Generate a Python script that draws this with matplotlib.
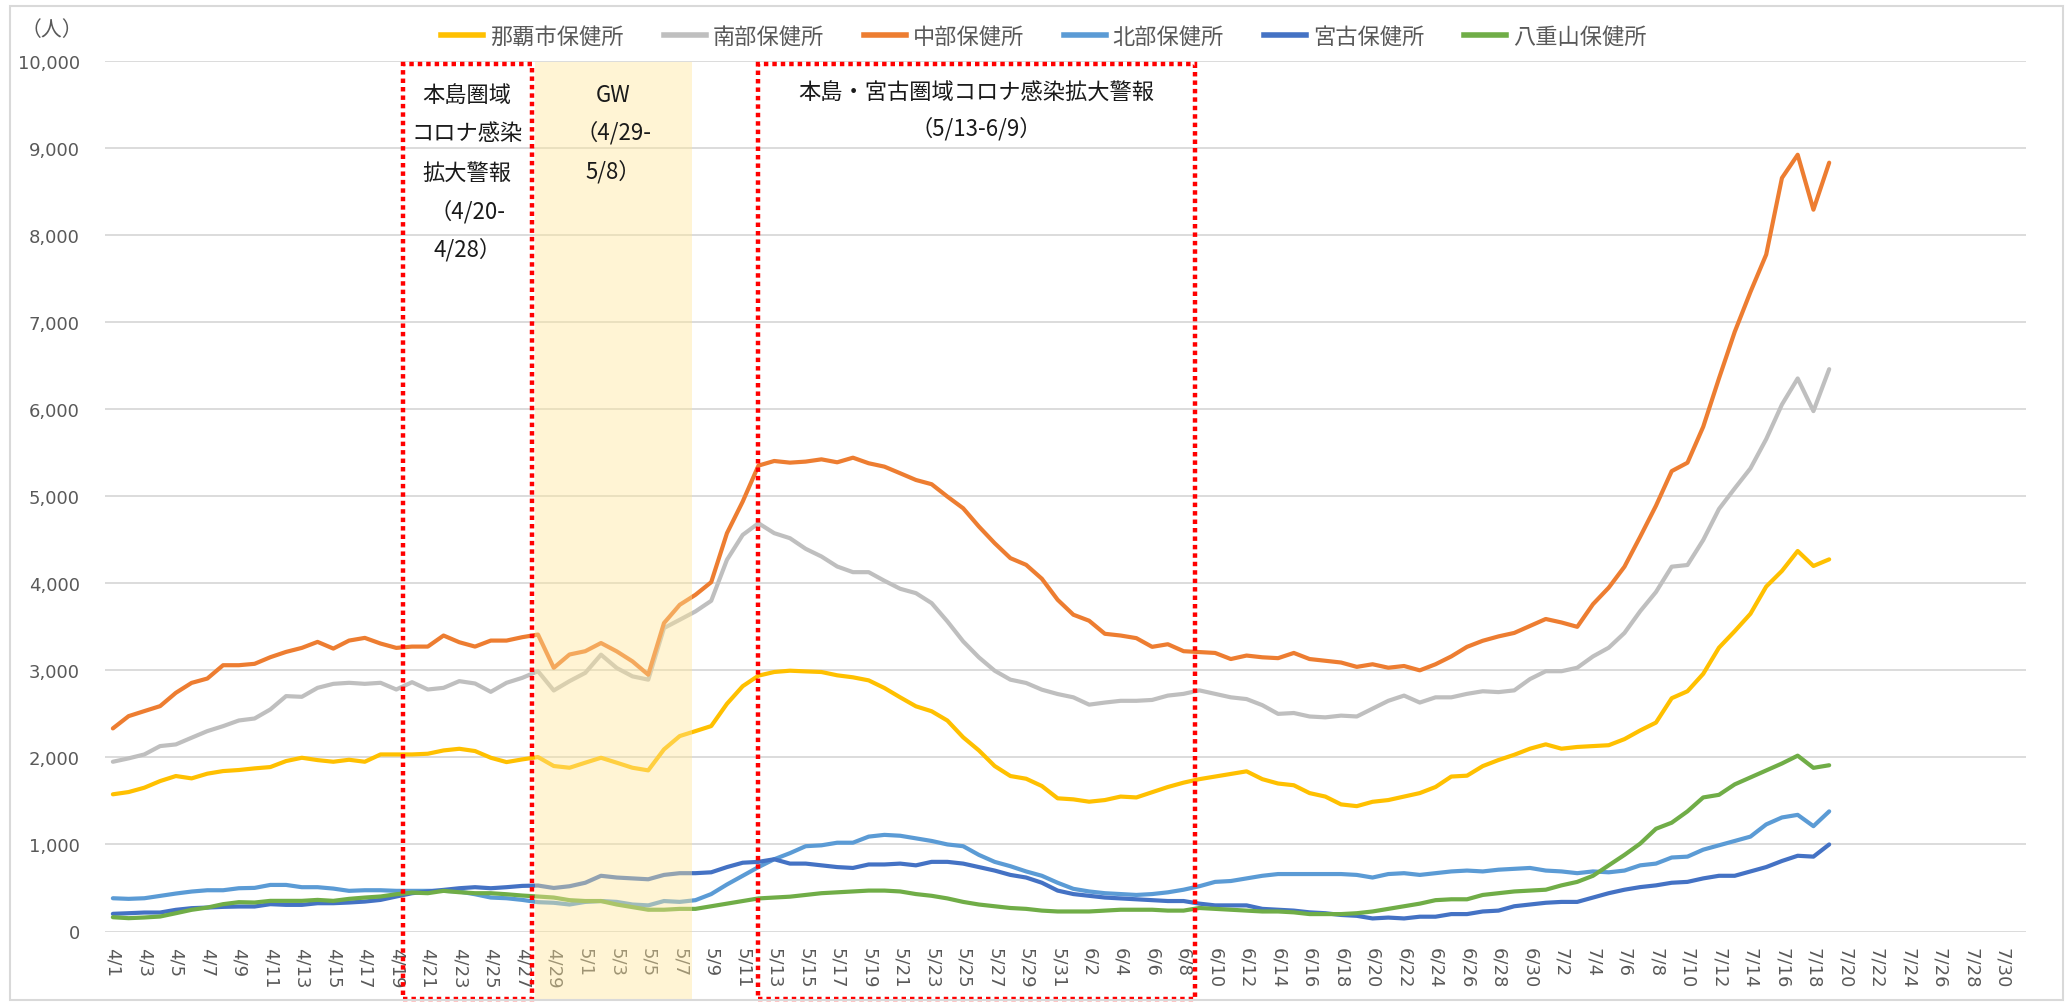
import datetime as dt
import matplotlib
matplotlib.use("Agg")
import matplotlib.pyplot as plt
import numpy as np
from matplotlib.patches import Rectangle
from matplotlib.transforms import blended_transform_factory
from matplotlib.lines import Line2D
from matplotlib.ticker import FuncFormatter

plt.rcParams['font.family'] = ['DejaVu Sans', 'Noto Sans CJK JP']
CJK = ['Noto Sans CJK JP', 'DejaVu Sans']

# ---------------- data ----------------
start = dt.date(2022, 4, 1)
dates = [f"{(start + dt.timedelta(days=k)).month}/{(start + dt.timedelta(days=k)).day}" for k in range(122)]
tick_labels = dates[::2]

series_names = ["那覇市保健所", "南部保健所", "中部保健所", "北部保健所", "宮古保健所", "八重山保健所"]
series_colors = ["#FFC000", "#BFBFBF", "#ED7D31", "#5B9BD5", "#4472C4", "#70AD47"]

naha = [1576, 1602, 1652, 1728, 1786, 1759, 1813, 1843, 1855, 1874, 1889, 1958, 1996, 1969, 1950,
        1973, 1950, 2034, 2034, 2034, 2042, 2080, 2099, 2073, 1996, 1946, 1977, 2004, 1901, 1881,
        1939, 1996, 1939, 1881, 1851, 2092, 2245, 2302, 2360, 2616, 2818, 2939, 2981, 2996, 2988,
        2981, 2943, 2920, 2885, 2797, 2690, 2587, 2530, 2423, 2231, 2080, 1901, 1786, 1755, 1671,
        1530, 1518, 1491, 1510, 1550, 1540, 1600, 1660, 1710, 1750, 1780, 1810, 1840, 1750, 1700,
        1680, 1590, 1550, 1460, 1440, 1490, 1510, 1550, 1590, 1660, 1780, 1790, 1900, 1970, 2030,
        2100, 2150, 2100, 2120, 2130, 2140, 2210, 2310, 2400, 2680, 2760, 2960, 3260, 3450, 3650,
        3962, 4142, 4371, 4199, 4275]

nanbu = [1950, 1989, 2034, 2130, 2149, 2226, 2302, 2359, 2424, 2447, 2551, 2704, 2696, 2799, 2845,
         2857, 2845, 2857, 2780, 2864, 2780, 2799, 2876, 2849, 2753, 2857, 2914, 2990, 2769, 2876,
         2971, 3180, 3027, 2931, 2893, 3486, 3581, 3677, 3799, 4270, 4556, 4690, 4576, 4518, 4396,
         4308, 4193, 4128, 4128, 4029, 3937, 3887, 3772, 3562, 3333, 3149, 2996, 2893, 2855, 2778,
         2728, 2690, 2606, 2630, 2650, 2650, 2660, 2710, 2730, 2770, 2730, 2690, 2670, 2600, 2500,
         2510, 2470, 2460, 2480, 2470, 2560, 2650, 2710, 2630, 2690, 2690, 2730, 2760, 2750, 2770,
         2900, 2990, 2990, 3030, 3160, 3260, 3430, 3680, 3900, 4191, 4210, 4497, 4853, 5090, 5320,
         5656, 6054, 6353, 5978, 6460]

chubu = [2333, 2474, 2532, 2589, 2742, 2856, 2906, 3059, 3059, 3075, 3151, 3212, 3258, 3327, 3250,
         3342, 3373, 3308, 3258, 3273, 3273, 3400, 3323, 3273, 3342, 3342, 3381, 3411, 3029, 3182,
         3220, 3314, 3218, 3103, 2950, 3543, 3753, 3868, 4013, 4576, 4939, 5352, 5405, 5386, 5398,
         5424, 5390, 5443, 5379, 5340, 5264, 5187, 5138, 4996, 4862, 4652, 4461, 4289, 4212, 4052,
         3811, 3639, 3570, 3420, 3400, 3370, 3270, 3300, 3220, 3210, 3200, 3130, 3170, 3150, 3140,
         3200, 3130, 3110, 3090, 3040, 3070, 3030, 3050, 3000, 3070, 3160, 3270, 3340, 3390, 3430,
         3510, 3590, 3550, 3500, 3760, 3950, 4191, 4536, 4891, 5289, 5385, 5798, 6353, 6888, 7347,
         7776, 8656, 8923, 8292, 8832]

hokubu = [382, 375, 382, 409, 436, 459, 474, 474, 497, 501, 535, 535, 509, 509, 493,
          467, 474, 474, 467, 467, 467, 467, 459, 428, 390, 382, 363, 337, 330, 310,
          340, 350, 340, 310, 300, 350, 340, 360, 430, 540, 640, 740, 830, 900, 980,
          990, 1020, 1020, 1090, 1110, 1100, 1070, 1040, 1000, 980, 880, 800, 750, 690, 640,
          560, 490, 460, 440, 430, 420, 430, 450, 480, 520, 570, 580, 610, 640, 660,
          660, 660, 660, 660, 650, 620, 660, 670, 650, 670, 690, 700, 690, 710, 720,
          730, 700, 690, 670, 690, 680, 700, 760, 780, 850, 860, 940, 990, 1040, 1090,
          1230, 1310, 1340, 1210, 1380]

miyako = [203, 210, 218, 218, 249, 268, 275, 283, 287, 287, 314, 306, 306, 325, 325,
          333, 344, 363, 402, 440, 459, 478, 497, 509, 497, 509, 524, 528, 500, 520,
          560, 640, 620, 610, 600, 650, 670, 670, 680, 740, 790, 800, 830, 780, 780,
          760, 740, 730, 770, 770, 780, 760, 800, 800, 780, 740, 700, 650, 620, 560,
          470, 430, 410, 390, 380, 370, 360, 350, 350, 320, 300, 300, 300, 260, 250,
          240, 220, 210, 190, 180, 150, 160, 150, 170, 170, 200, 200, 230, 240, 290,
          310, 330, 340, 340, 390, 440, 480, 510, 530, 560, 570, 610, 640, 640, 690,
          740, 810, 870, 860, 1000]

yaeyama = [164, 153, 161, 172, 210, 249, 275, 314, 337, 333, 352, 352, 352, 363, 352,
           375, 390, 402, 428, 447, 440, 467, 451, 440, 440, 428, 413, 402, 390, 360,
           350, 350, 310, 280, 250, 250, 260, 260, 290, 320, 350, 380, 390, 400, 420,
           440, 450, 460, 470, 470, 460, 430, 410, 380, 340, 310, 290, 270, 260, 240,
           230, 230, 230, 240, 250, 250, 250, 240, 240, 270, 260, 250, 240, 230, 230,
           220, 200, 200, 200, 210, 230, 260, 290, 320, 360, 370, 370, 420, 440, 460,
           470, 480, 530, 570, 640, 760, 880, 1010, 1180, 1250, 1380, 1540, 1570, 1690, 1770,
           1850, 1930, 2020, 1880, 1910]

all_series = [naha, nanbu, chubu, hokubu, miyako, yaeyama]

# annotation periods (category positions)
box1_span = (18.4, 26.6)
gw_span = (26.8, 36.8)
box3_span = (41.0, 68.7)

# ---------------- figure ----------------
W, H = 2071, 1004
fig = plt.figure(figsize=(W / 100, H / 100), dpi=100)
ax = fig.add_axes([105 / W, 71.5 / H, (2026 - 105) / W, (942 - 71.5) / H])

for vals, name, col in zip(all_series, series_names, series_colors):
    ax.plot(np.arange(len(vals)), vals, color=col, lw=3.0, solid_joinstyle='round',
            solid_capstyle='round', zorder=3, label=name)

ax.set_xlim(-0.5, len(dates) - 0.5)
ax.set_ylim(0, 10000)
ax.set_yticks(np.arange(0, 10001, 1000))
ax.yaxis.set_major_formatter(FuncFormatter(lambda v, p: f"{int(v):,}"))
ax.set_xticks(np.arange(0, len(dates), 2))
ax.set_xticklabels(tick_labels, rotation=270)
ax.grid(axis='y', color='#D9D9D9', lw=1.3, zorder=0)
for s in ax.spines.values():
    s.set_visible(False)
ax.tick_params(axis='both', length=0, labelsize=13, labelcolor='#595959')
ax.tick_params(axis='x', pad=11)
ax.tick_params(axis='y', pad=18)

trans = blended_transform_factory(ax.transData, fig.transFigure)

# GW band (pale, semi-transparent so the lines show through faded)
ax.add_patch(Rectangle((gw_span[0], 0.004), gw_span[1] - gw_span[0], 0.937 - 0.004,
                       transform=trans, facecolor='#FFE699', alpha=0.42, edgecolor='none',
                       zorder=4, clip_on=False))
# red dotted boxes
for a, b in (box1_span, box3_span):
    ax.add_patch(Rectangle((a, 0.004), b - a, 0.935 - 0.004, transform=trans, fill=False,
                           edgecolor='#FF0000', lw=3.2, linestyle=(0, (1, 0.9)), zorder=6,
                           clip_on=False))

def lines_at(xc, ys, texts):
    for y, t in zip(ys, texts):
        ax.text(xc, 1 - y / H, t, transform=trans, ha='center', va='center', fontsize=16,
                family=CJK, color='#1a1a1a', zorder=7, clip_on=False)

lines_at(sum(box1_span) / 2, [95, 134, 173, 212, 250],
         ["本島圏域", "コロナ感染", "拡大警報", "（4/20-", "4/28）"])
lines_at(sum(gw_span) / 2, [95, 133, 172], ["GW", "（4/29-", "5/8）"])
lines_at(sum(box3_span) / 2, [93, 129], ["本島・宮古圏域コロナ感染拡大警報", "（5/13-6/9）"])

# y unit label
fig.text(52 / W, 1 - 30 / H, "（人）", ha='center', va='center', fontsize=15, family=CJK,
         color='#595959')

# legend
handles = [Line2D([], [], color=c, lw=4) for c in series_colors]
fig.legend(handles, series_names, loc='center', bbox_to_anchor=(0.504, 1 - 37 / H), ncol=6,
           frameon=False, prop={'family': CJK, 'size': 16}, handlelength=1.9,
           handletextpad=0.3, columnspacing=1.8, labelcolor='#595959')

# chart-area border
fig.patches.append(Rectangle((10 / W, 3 / H), (2063 - 10) / W, (999 - 5) / H,
                             transform=fig.transFigure, fill=False, edgecolor='#D9D9D9', lw=1.5))

fig.savefig("out.png", dpi=100)
